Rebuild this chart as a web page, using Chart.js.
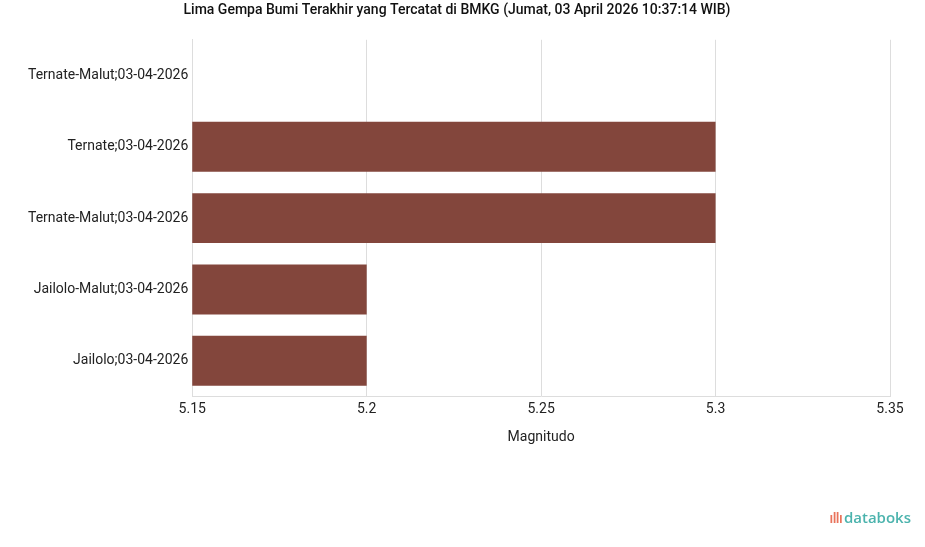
<!DOCTYPE html>
<html>
<head>
<meta charset="utf-8">
<script src="https://cdn.jsdelivr.net/npm/chart.js@4"></script>
<style>
  html, body { margin: 0; padding: 0; background: #fff; }
  #wrap { position: relative; width: 925px; height: 547px; }
  #logo { position: absolute; right: 14px; bottom: 20px; font-family: 'Open Sans', sans-serif; font-size: 15px; color: #4bb3ad; font-weight: 600; }
  #logo span { color: #e9735b; letter-spacing: -1px; margin-right: 2px; }
</style>
</head>
<body>
<div id="wrap">
  <canvas id="chart" width="925" height="547"></canvas>
  <div id="logo"><span>ıllı</span>databoks</div>
</div>
<script>
// categories and magnitudes
var places = ['Ternate-Malut;03-04-2026', 'Ternate;03-04-2026', 'Ternate-Malut;03-04-2026', 'Jailolo-Malut;03-04-2026', 'Jailolo;03-04-2026'];
var magnitudes = [5.1, 5.3, 5.3, 5.2, 5.2];
var tickValues = [5.15, 5.2, 5.25, 5.3, 5.35];

const data = {
    labels: places,
    datasets: [{
        label: 'Magnitudo',
        data: magnitudes,
        backgroundColor: '#83463c',
        barPercentage: 0.7,
        categoryPercentage: 1
    }]
};

new Chart(document.getElementById('chart'), {
    type: 'bar',
    data: data,
    options: {
        indexAxis: 'y',
        responsive: false,
        animation: false,
        layout: { padding: { top: 2, right: 35, bottom: 97, left: 24 } },
        plugins: {
            legend: { display: false },
            tooltip: { enabled: false },
            title: {
                display: true,
                text: 'Lima Gempa Bumi Terakhir yang Tercatat di BMKG (Jumat, 03 April 2026 10:37:14 WIB)',
                color: '#111',
                font: { family: 'Roboto', size: 14, weight: '500' },
                padding: { top: 0, bottom: 21 }
            }
        },
        scales: {
            x: {
                min: 5.15,
                max: 5.35,
                afterBuildTicks: function (axis) {
                    axis.ticks = tickValues.map(function (v) { return { value: v }; });
                },
                ticks: {
                    color: '#222',
                    font: { family: 'Roboto', size: 14 },
                    padding: 5,
                    callback: function (v) { return String(Math.round(v * 100) / 100); }
                },
                grid: { color: '#dddddd', drawTicks: false },
                border: { color: '#dddddd' },
                title: {
                    display: true,
                    text: 'Magnitudo',
                    color: '#222',
                    font: { family: 'Roboto', size: 14 },
                    padding: { top: 6 }
                }
            },
            y: {
                ticks: {
                    color: '#222',
                    font: { family: 'Roboto', size: 14 },
                    padding: 4
                },
                grid: { display: false, drawTicks: false },
                border: { color: '#dddddd' }
            }
        }
    }
});
</script>
</body>
</html>
